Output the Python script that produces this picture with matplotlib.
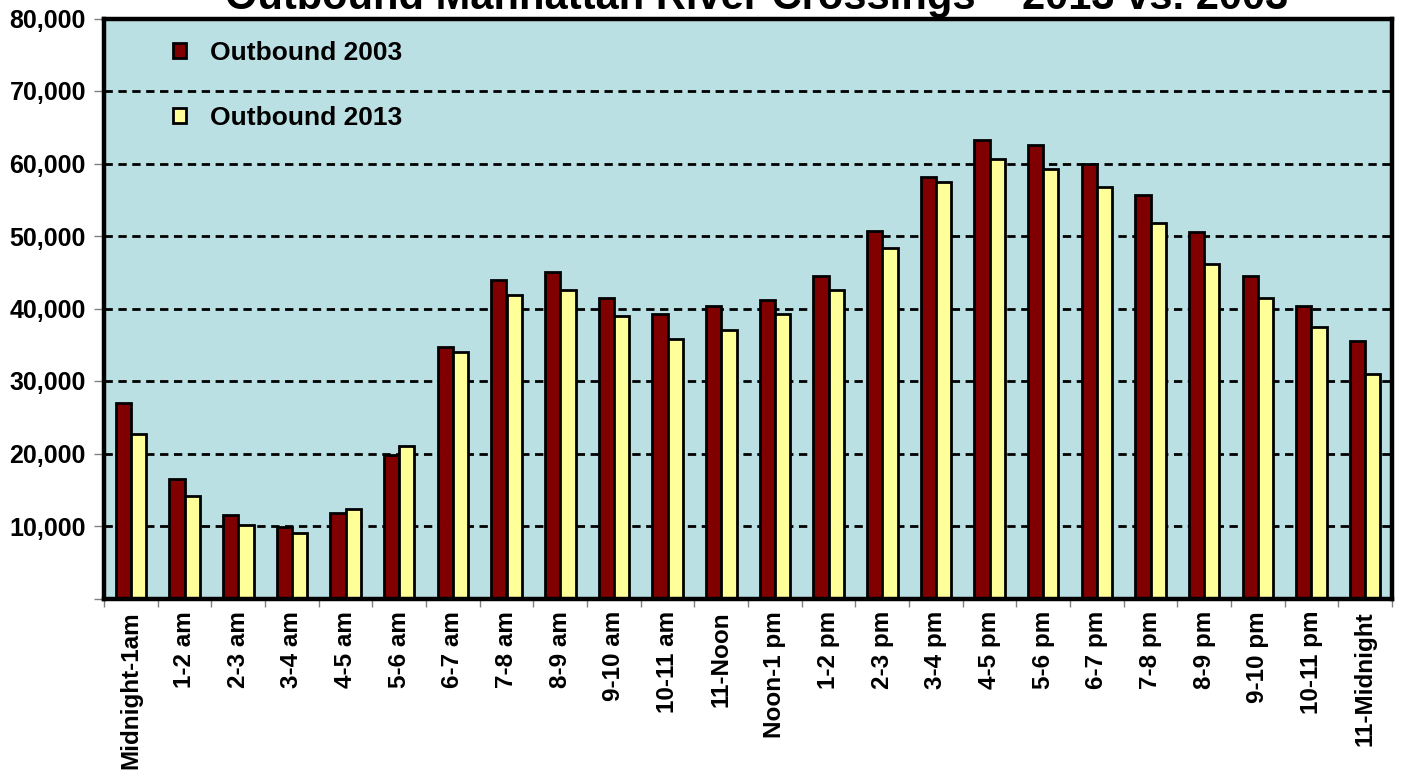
import matplotlib
matplotlib.use("Agg")
import matplotlib.pyplot as plt
import numpy as np
from matplotlib.ticker import FixedLocator, FuncFormatter

categories = ["Midnight-1am", "1-2 am", "2-3 am", "3-4 am", "4-5 am", "5-6 am",
              "6-7 am", "7-8 am", "8-9 am", "9-10 am", "10-11 am", "11-Noon",
              "Noon-1 pm", "1-2 pm", "2-3 pm", "3-4 pm", "4-5 pm", "5-6 pm",
              "6-7 pm", "7-8 pm", "8-9 pm", "9-10 pm", "10-11 pm", "11-Midnight"]
outbound_2003 = [27000, 16500, 11500, 9800, 11800, 19800,
                 34700, 43900, 45100, 41500, 39200, 40300,
                 41200, 44500, 50700, 58200, 63200, 62600,
                 59900, 55700, 50500, 44500, 40300, 35500]
outbound_2013 = [22700, 14100, 10100, 9000, 12400, 21000,
                 34000, 41900, 42600, 38900, 35800, 37000,
                 39200, 42500, 48400, 57500, 60600, 59200,
                 56800, 51800, 46100, 41500, 37400, 30900]
series_names = ["Outbound 2003", "Outbound 2013"]
title = "Outbound Manhattan River Crossings – 2013 vs. 2003"
y_ticks = [0, 10000, 20000, 30000, 40000, 50000, 60000, 70000, 80000]

plt.rcParams['font.family'] = ['Liberation Sans', 'DejaVu Sans']
plt.rcParams['font.weight'] = 'bold'

fig = plt.figure(figsize=(14.01, 7.76), dpi=100)
ax = fig.add_axes([104/1401, 1 - 598.5/776, (1392-104)/1401, (598.5-18.5)/776])
ax.set_facecolor('#BBE0E3')

x = np.arange(len(categories))
w = 1/3.5
ax.bar(x - w/2, outbound_2003, w, color='#800000', edgecolor='black',
       linewidth=2.0, label=series_names[0], zorder=3)
ax.bar(x + w/2, outbound_2013, w, color='#FFFF99', edgecolor='black',
       linewidth=2.0, label=series_names[1], zorder=3)

ax.set_xlim(-0.5, len(categories) - 0.5)
ax.set_ylim(0, 80000)
ax.set_yticks(y_ticks)
ax.yaxis.set_major_formatter(FuncFormatter(lambda v, p: '' if v == 0 else f'{int(v):,}'))
for yv in y_ticks[1:-1]:
    ax.axhline(yv, color='black', linewidth=2.0, linestyle=(0, (3.0, 2.0)), zorder=1)

ax.set_xticks(x)
ax.set_xticklabels(categories, rotation=90, fontsize=17.5, fontweight='bold')
ax.xaxis.set_minor_locator(FixedLocator(np.arange(-0.5, len(categories), 1)))
ax.tick_params(axis='x', which='major', length=0, pad=9)
ax.tick_params(axis='x', which='minor', length=6, color='#808080', width=1)
ax.tick_params(axis='y', which='major', length=7, color='#808080', width=1,
               labelsize=18, pad=6)
for lab in ax.get_yticklabels():
    lab.set_fontweight('bold')

for s in ax.spines.values():
    s.set_linewidth(3.2)
    s.set_color('black')
    s.set_zorder(4)

leg = ax.legend(loc='upper left', bbox_to_anchor=(0.035, 1.002), frameon=False,
                prop={'weight': 'bold', 'size': 19}, handlelength=0.5,
                handleheight=0.5, handletextpad=0.9, labelspacing=1.55)

fig.text(757/1401, 1 - 9/776, title, ha='center', va='baseline',
         fontsize=30, fontweight='bold')

fig.savefig('out.png', dpi=100)
